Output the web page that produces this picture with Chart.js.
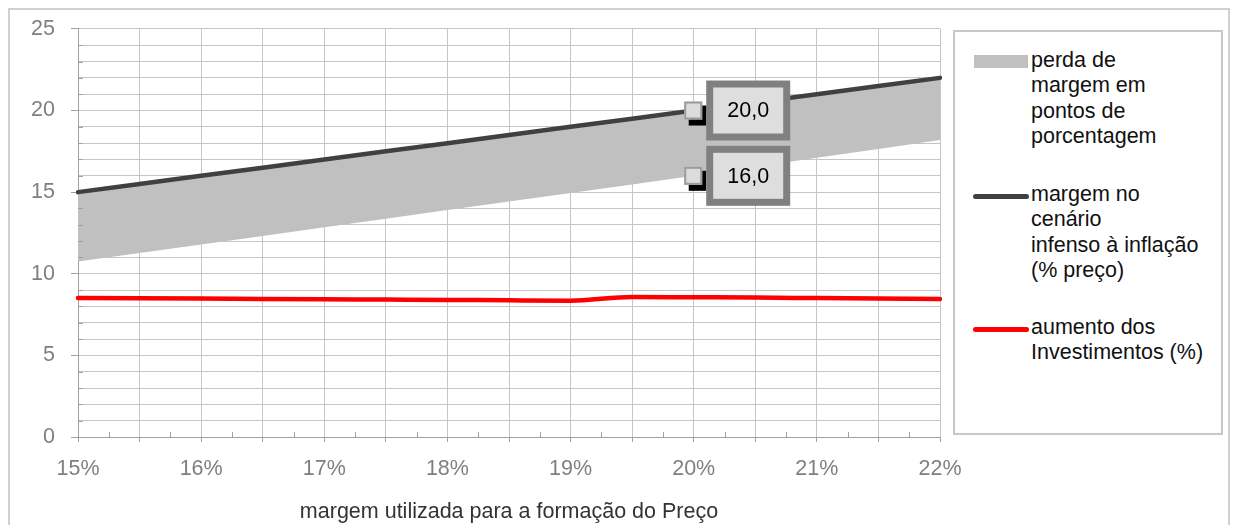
<!DOCTYPE html>
<html>
<head>
<meta charset="utf-8">
<script src="https://cdn.jsdelivr.net/npm/chart.js@4.4.1/dist/chart.umd.min.js"></script>
<style>
  html, body { margin: 0; padding: 0; background: #fff; }
  #wrap { position: relative; width: 1235px; height: 525px; overflow: hidden;
          font-family: "Liberation Sans", Arial, sans-serif; }
  #chart { position: absolute; left: 0; top: 0; }
  #frame { position: absolute; left: 8px; top: 8px; width: 1222px; height: 600px;
           border: 2px solid #d0d0d0; box-sizing: border-box; pointer-events: none; }
  #legend { position: absolute; left: 953px; top: 30px; width: 270px; height: 405px;
            border: 2px solid #c8c8c8; box-sizing: border-box; background: #fff; }
  .lg-sym { position: absolute; }
  .lg-txt { position: absolute; font-size: 21.5px; line-height: 25.5px; color: #111; white-space: nowrap; }
</style>
</head>
<body>
<div id="wrap">
  <canvas id="chart" width="1235" height="525"></canvas>
  <div id="legend"></div>
  <div id="frame"></div>
</div>
<script>
// Margin used for pricing (%), one point every half percentage point
const margens = [15, 15.5, 16, 16.5, 17, 17.5, 18, 18.5, 19, 19.5, 20, 20.5, 21, 21.5, 22];

// Margin in the inflation-proof scenario (% of price)
const margemCenario = [15.0, 15.5, 16.0, 16.5, 17.0, 17.5, 18.0, 18.5, 19.0, 19.5, 20.0, 20.5, 21.0, 21.5, 22.0];

// Margin left after the loss (lower edge of the grey band)
const margemComPerda = [10.75, 11.27, 11.8, 12.32, 12.85, 13.37, 13.9, 14.42, 14.95, 15.47, 16.0, 16.55, 17.1, 17.65, 18.2];

// Increase in investments (%)
const aumentoInvestimentos = [8.52, 8.5, 8.48, 8.46, 8.44, 8.42, 8.4, 8.37, 8.35, 8.58, 8.56, 8.54, 8.51, 8.48, 8.45];

// Labelled ticks
const xLabelledTicks = [15, 16, 17, 18, 19, 20, 21, 22];
const yLabelledTicks = [0, 5, 10, 15, 20, 25];

// Category whose values get a callout box
const calloutAt = 20;

const FONT = '"Liberation Sans", Arial, sans-serif';
const FONT_SIZE = 21.5;
const GRID = '#c6c6c6';
const AXIS = '#a0a0a0';

// Short inner tick marks: every unit on the value axis, every quarter point on the category axis
const minorTicks = {
  id: 'minorTicks',
  afterDraw(chart) {
    const { ctx, chartArea: a, scales: { x, y } } = chart;
    ctx.save();
    ctx.strokeStyle = AXIS;
    ctx.lineWidth = 1;
    ctx.beginPath();
    for (let v = 1; v < 25; v++) {
      if (yLabelledTicks.includes(v)) continue;
      const py = Math.round(y.getPixelForValue(v)) + 0.5;
      ctx.moveTo(a.left, py);
      ctx.lineTo(a.left + 5, py);
    }
    for (let i = 0; i < margens.length - 1; i++) {
      const px = Math.round((x.getPixelForValue(i) + x.getPixelForValue(i + 1)) / 2) + 0.5;
      ctx.moveTo(px, a.bottom);
      ctx.lineTo(px, a.bottom - 5);
    }
    ctx.stroke();
    ctx.restore();
  }
};

// Square marker with shadow and a framed value box to its right
const callouts = {
  id: 'callouts',
  afterDatasetsDraw(chart) {
    const ctx = chart.ctx;
    const idx = margens.indexOf(calloutAt);
    [1, 3].forEach(di => {
      const pt = chart.getDatasetMeta(di).data[idx];
      const v = chart.data.datasets[di].data[idx];
      const x = pt.x, y = pt.y;
      ctx.save();
      ctx.fillStyle = '#000';
      ctx.fillRect(x - 5, y - 5, 17.5, 20);
      ctx.fillStyle = '#dcdcdc';
      ctx.fillRect(x - 9.5, y - 9, 18, 18);
      ctx.strokeStyle = '#9a9a9a';
      ctx.lineWidth = 2;
      ctx.strokeRect(x - 8.5, y - 8, 16, 16);
      const bx = x + 12.5, by = y - 30, bw = 84, bh = 60;
      ctx.fillStyle = '#808080';
      ctx.fillRect(bx, by, bw, bh);
      ctx.fillStyle = '#dedede';
      ctx.fillRect(bx + 7, by + 7, bw - 14, bh - 14);
      ctx.fillStyle = '#000';
      ctx.font = FONT_SIZE + 'px ' + FONT;
      ctx.textAlign = 'center';
      ctx.textBaseline = 'middle';
      ctx.fillText(v.toFixed(1).replace('.', ','), bx + bw / 2, y + 1);
      ctx.restore();
    });
  }
};

const chart = new Chart(document.getElementById('chart'), {
  type: 'line',
  data: {
    labels: margens,
    datasets: [
      {
        label: ['aumento dos', 'Investimentos (%)'],
        data: aumentoInvestimentos,
        borderColor: '#ff0000',
        borderWidth: 4.5,
        borderCapStyle: 'round',
        cubicInterpolationMode: 'monotone',
        fill: false
      },
      {
        label: ['margem no', 'cenário', 'infenso à inflação', '(% preço)'],
        data: margemCenario,
        borderColor: '#404040',
        borderWidth: 4.5,
        borderCapStyle: 'round',
        fill: false
      },
      {
        label: ['perda de', 'margem em', 'pontos de', 'porcentagem'],
        data: margemCenario,
        borderColor: 'rgba(0,0,0,0)',
        borderWidth: 1,
        backgroundColor: '#c0c0c0',
        fill: '+1'
      },
      {
        label: 'margem após a perda',
        data: margemComPerda,
        borderColor: 'rgba(0,0,0,0)',
        borderWidth: 1,
        fill: false
      }
    ]
  },
  options: {
    responsive: false,
    animation: false,
    devicePixelRatio: 1,
    layout: { padding: { left: 0, top: 27, right: 295, bottom: 0 } },
    elements: { point: { radius: 0, hoverRadius: 0 } },
    plugins: { legend: { display: false }, tooltip: { enabled: false } },
    scales: {
      x: {
        type: 'category',
        offset: false,
        grid: { color: GRID, tickLength: 5, tickColor: AXIS },
        border: { color: AXIS },
        ticks: {
          autoSkip: false,
          maxRotation: 0,
          padding: 14,
          color: '#7f7f7f',
          font: { size: FONT_SIZE, family: FONT },
          callback: (v, i) => xLabelledTicks.includes(margens[i]) ? margens[i] + '%' : ''
        },
        title: {
          display: true,
          text: 'margem utilizada para a formação do Preço',
          color: '#333333',
          font: { size: FONT_SIZE, family: FONT },
          padding: { top: 0, bottom: 0 }
        },
        afterFit(s) { s.height = 88; }
      },
      y: {
        min: 0,
        max: 25,
        grid: {
          color: GRID,
          tickLength: 7,
          tickColor: c => yLabelledTicks.includes(c.tick.value) ? AXIS : 'rgba(0,0,0,0)'
        },
        border: { color: AXIS },
        ticks: {
          stepSize: 1,
          autoSkip: false,
          padding: 16,
          color: '#7f7f7f',
          font: { size: FONT_SIZE, family: FONT },
          callback: v => yLabelledTicks.includes(v) ? String(v) : ''
        },
        afterFit(s) { s.width = 78; }
      }
    }
  },
  plugins: [minorTicks, callouts]
});

// Legend built from the datasets: band, dark line, red line
(function buildLegend() {
  const wrap = document.getElementById('wrap');
  const entries = [
    { ds: 2, kind: 'area', top: 47.5 },
    { ds: 1, kind: 'line', top: 181.5 },
    { ds: 0, kind: 'line', top: 314.5 }
  ];
  entries.forEach(e => {
    const d = chart.data.datasets[e.ds];
    const sym = document.createElement('div');
    sym.className = 'lg-sym';
    const cy = e.top + 14.5;
    if (e.kind === 'area') {
      sym.style.cssText = `left:974px;top:${cy - 7}px;width:54px;height:13px;background:${d.backgroundColor};`;
    } else {
      sym.style.cssText = `left:973px;top:${cy - 2.5}px;width:56px;height:5px;border-radius:2.5px;background:${d.borderColor};`;
    }
    wrap.appendChild(sym);
    const txt = document.createElement('div');
    txt.className = 'lg-txt';
    txt.style.left = '1031px';
    txt.style.top = e.top + 'px';
    (Array.isArray(d.label) ? d.label : [d.label]).forEach((line, i) => {
      if (i) txt.appendChild(document.createElement('br'));
      txt.appendChild(document.createTextNode(line));
    });
    wrap.appendChild(txt);
  });
  wrap.appendChild(document.getElementById('frame'));
})();
</script>
</body>
</html>
